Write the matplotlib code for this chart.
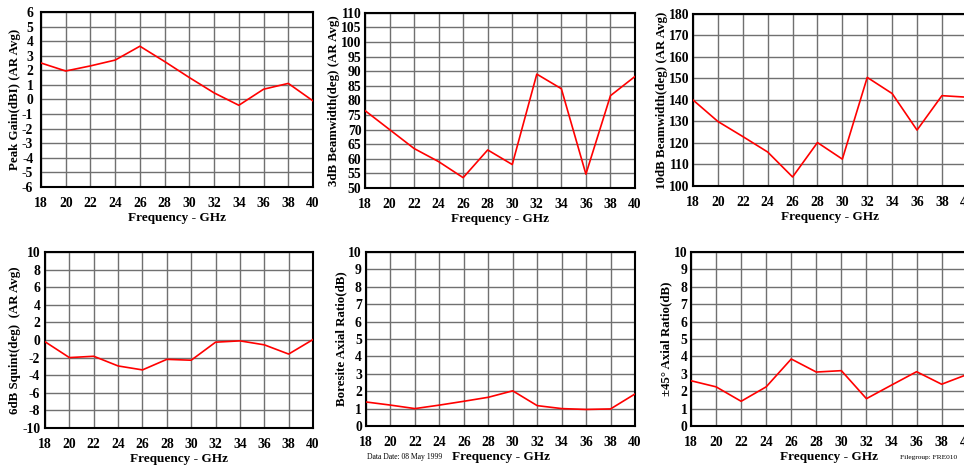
import numpy as np
import matplotlib
matplotlib.use("Agg")
import matplotlib.pyplot as plt

plt.rcParams["font.family"] = ["Liberation Serif", "DejaVu Serif"]
plt.rcParams["font.weight"] = "bold"
plt.rcParams["axes.unicode_minus"] = False

freq = [18, 20, 22, 24, 26, 28, 30, 32, 34, 36, 38, 40]

peak_gain = [2.5, 1.95, 2.3, 2.7, 3.65, 2.6, 1.5, 0.45, -0.4, 0.7, 1.1, -0.1]
bw_3db = [76.5, 70.0, 63.5, 59.0, 53.5, 63.0, 58.0, 89.0, 84.0, 54.7, 81.6, 88.2]
bw_10db = [140, 130, 123, 115.8, 104.2, 120.2, 112.5, 150.5, 143, 126, 142, 141.3]
squint_6db = [-0.2, -2.0, -1.85, -2.95, -3.4, -2.2, -2.3, -0.25, -0.1, -0.55, -1.6, 0.05]
boresite_ar = [1.38, 1.2, 1.0, 1.2, 1.42, 1.65, 2.02, 1.17, 1.0, 0.95, 0.98, 1.84]
ar_45 = [2.6, 2.25, 1.42, 2.25, 3.85, 3.1, 3.18, 1.57, 2.35, 3.12, 2.4, 2.95]

panels = [
    # (data, ylabel, ylim, yticks, axes rect, y tick pad)
    (peak_gain, "Peak Gain(dBI) (AR Avg)", (-6, 6), np.arange(-6, 7, 1),
     [0.0425, 0.598, 0.2822, 0.3763], 5.5),
    (bw_3db, "3dB Beamwidth(deg) (AR Avg)", (50, 110), np.arange(50, 111, 5),
     [0.3786, 0.596, 0.2801, 0.3763], 2.5),
    (bw_10db, "10dB Beamwidth(deg) (AR Avg)", (100, 180), np.arange(100, 181, 10),
     [0.7189, 0.600, 0.2840, 0.3700], 2.5),
    (squint_6db, "6dB Squint(deg)  (AR Avg)", (-10, 10), np.arange(-10, 11, 2),
     [0.0467, 0.0796, 0.2780, 0.3785], 3.5),
    (boresite_ar, "Boresite Axial Ratio(dB)", (0, 10), np.arange(0, 11, 1),
     [0.3797, 0.0839, 0.2790, 0.3742], 3),
    (ar_45, "\u00b145\u00b0 Axial Ratio(dB)", (0, 10), np.arange(0, 11, 1),
     [0.7168, 0.0839, 0.2860, 0.3742], 2.5),
]

fig = plt.figure(figsize=(9.64, 4.65), dpi=100)

for values, ylabel, ylim, yticks, rect, ypad in panels:
    ax = fig.add_axes(rect)
    ax.plot(freq, values, color="#ff0000", linewidth=1.2, zorder=3)
    ax.set_xlim(18, 40)
    ax.set_ylim(*ylim)
    ax.set_xticks(freq)
    ax.set_yticks(yticks)
    ax.grid(True, color="#707070", linewidth=1.0)
    for s in ax.spines.values():
        s.set_linewidth(1.5)
        s.set_color("black")
    ax.tick_params(axis="x", length=0, labelsize=9.8, pad=7)
    ax.tick_params(axis="y", length=0, labelsize=9.8, pad=ypad)
    for lab in ax.get_xticklabels() + ax.get_yticklabels():
        lab.set_fontweight("bold")
    ax.set_xlabel("Frequency - GHz", fontsize=9.5, fontweight="bold", labelpad=1.5)
    ax.set_ylabel(ylabel, fontsize=9.3, fontweight="bold", labelpad=1)

fig.text(0.381, 0.012, "Data Date: 08 May 1999", fontsize=5.5, fontweight="normal")
fig.text(0.934, 0.012, "Filegroup: FRE010", fontsize=5.3, fontweight="normal")

fig.savefig("out.png", dpi=100)
